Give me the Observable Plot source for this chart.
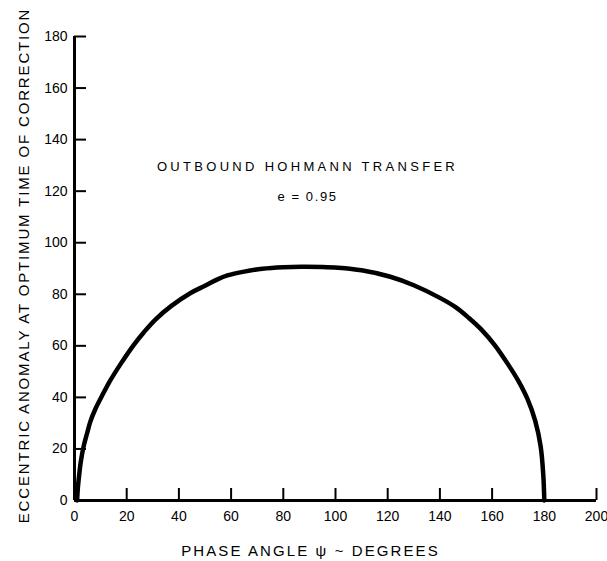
<!DOCTYPE html>
<html>
<head>
<meta charset="utf-8">
<script src="https://cdn.jsdelivr.net/npm/d3@7"></script>
<script src="https://cdn.jsdelivr.net/npm/@observablehq/plot@0.6"></script>
<style>
  html, body { margin: 0; padding: 0; background: #fff; }
  #chart svg { display: block; }
</style>
</head>
<body>
<div id="chart"></div>
<script>
// Phase angle ψ (degrees)
const phaseAngle = [1, 1.3, 1.8, 2.4, 3.5, 4.8, 6.1, 8, 10.6, 13.5, 17.7, 22.8, 26.6, 31, 37, 44.5, 50, 54.8, 58.6, 65, 72, 80, 87, 95, 101, 110, 121, 130, 140, 146, 151, 156, 161, 166, 170, 173.5, 176.5, 178.6, 179.6, 180];
// Eccentric anomaly at optimum time of correction (degrees)
const eccAnomaly = [0, 5, 10, 15, 21, 26, 30.7, 35.5, 40.7, 46.2, 53, 60.5, 65.3, 70.2, 75.4, 80.5, 83.3, 85.8, 87.3, 88.8, 89.9, 90.5, 90.7, 90.6, 90.3, 89.3, 86.8, 83.5, 78.6, 75, 70.9, 66.2, 60.3, 53, 46.5, 39.5, 31, 21, 10, 0];

const xTicks = [0, 20, 40, 60, 80, 100, 120, 140, 160, 180, 200];
const yTicks = [0, 20, 40, 60, 80, 100, 120, 140, 160, 180];

const xTitle = "PHASE ANGLE \u03C8 ~ DEGREES";
const yTitle = "ECCENTRIC ANOMALY AT OPTIMUM TIME OF CORRECTION";
const noteTitle = "OUTBOUND HOHMANN TRANSFER";
const noteValue = "e = 0.95";

const curve = phaseAngle.map((x, i) => ({x, y: eccAnomaly[i]}));
const font = "'Liberation Sans', Arial, sans-serif";

const chart = Plot.plot({
  width: 607,
  height: 561,
  marginLeft: 74,
  marginRight: 11,
  marginTop: 36,
  marginBottom: 61,
  style: {fontFamily: font, fontSize: "14px", color: "#000", background: "#fff"},
  x: {domain: [0, 200], ticks: xTicks},
  y: {domain: [0, 180], ticks: yTicks},
  marks: [
    Plot.axisX(xTicks.filter(d => d > 0), {tickSize: -12, tickPadding: 24, tickFormat: () => "", strokeWidth: 2, label: null}),
    Plot.axisX(xTicks, {tickSize: 0, tickPadding: 11, fontSize: 14, label: null}),
    Plot.axisY(yTicks.filter(d => d > 0), {tickSize: -12, tickPadding: 24, tickFormat: () => "", strokeWidth: 2, label: null}),
    Plot.axisY(yTicks, {tickSize: 0, tickPadding: 7, fontSize: 14, label: null}),
    Plot.ruleY([0], {stroke: "#000", strokeWidth: 3}),
    Plot.ruleX([0], {stroke: "#000", strokeWidth: 3}),
    Plot.line(curve, {x: "x", y: "y", curve: "catmull-rom", stroke: "#000", strokeWidth: 4.5}),
    Plot.text([noteTitle], {text: d => d, frameAnchor: "top", dx: -28, dy: 130, fontSize: 13, lineAnchor: "middle", fill: "#000"}),
    Plot.text([noteValue], {text: d => d, frameAnchor: "top", dx: -28, dy: 160, fontSize: 13, lineAnchor: "middle", fill: "#000"}),
    Plot.text([xTitle], {text: d => d, frameAnchor: "bottom", dx: -25, dy: 51, fontSize: 15, lineAnchor: "middle", textAnchor: "middle", fill: "#000"}),
    Plot.text([yTitle], {text: d => d, frameAnchor: "left", dx: -50, dy: -3, rotate: -90, fontSize: 15, lineAnchor: "middle", textAnchor: "middle", fill: "#000"})
  ]
});
const spacing = new Map([[noteTitle, "3.3px"], [noteValue, "1.6px"], [xTitle, "2.1px"], [yTitle, "1.85px"]]);
d3.select(chart).selectAll("text").each(function() {
  const ls = spacing.get(this.textContent);
  if (ls) d3.select(this).style("letter-spacing", ls);
});
document.getElementById("chart").appendChild(chart);
</script>
</body>
</html>
